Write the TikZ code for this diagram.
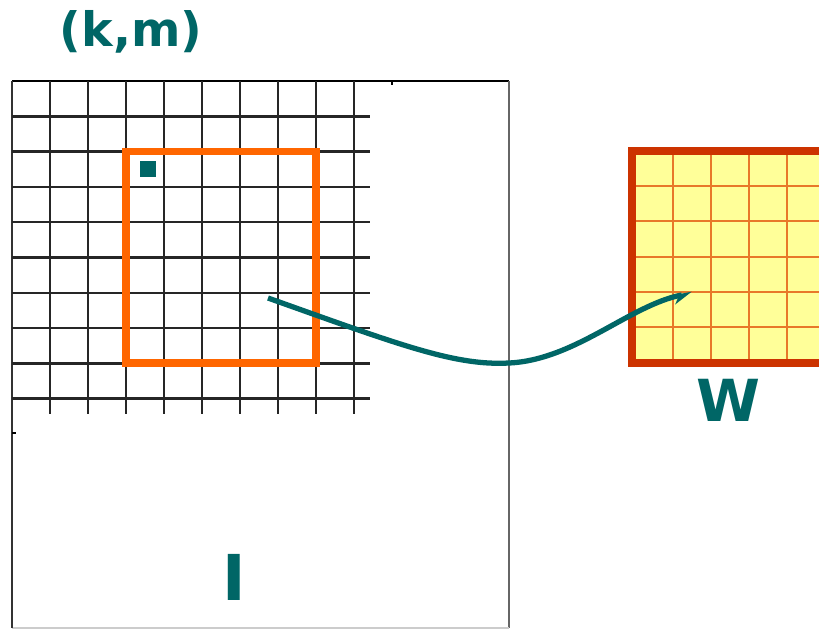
\documentclass[tikz,border=0pt]{standalone}
\usepackage{fontspec}
\setsansfont{DejaVu Sans}
\usepackage{tikz}
\usetikzlibrary{arrows.meta}
\definecolor{myteal}{HTML}{006666}
\definecolor{myorange}{HTML}{FF6600}
\definecolor{myrust}{HTML}{CC3300}
\definecolor{mycell}{HTML}{FFFF99}
\definecolor{mycellline}{HTML}{E8782A}

\begin{document}
\begin{tikzpicture}[
  x=0.02cm, y=-0.02cm,
  bigtext/.style={font=\sffamily\bfseries\fontsize{36}{40}\selectfont, text=myteal, inner sep=0pt},
  gridline/.style={black!85, line width=1.4pt}
]
\useasboundingbox (0,0) rectangle (819,629);
\clip (0,0) rectangle (819,629);

% Image I with its pixel grid
\draw[black, line width=0.7pt] (12,81) -- (509,81);
\draw[black!60, line width=1.2pt] (509,81) -- (509,628);
\draw[black!20, line width=0.7pt] (12,628) -- (509,628);
\draw[black!80, line width=1.2pt] (12,81) -- (12,628);
\foreach \i in {1,...,9}
  \draw[gridline] ({12+38*\i},81) -- ({12+38*\i},414);
\foreach \j in {1,...,9}
  \draw[gridline] (12,{81+35.3*\j}) -- (370,{81+35.3*\j});
\draw[black, line width=0.7pt] (12,433) -- (16,433);
\draw[black, line width=0.9pt] (392,81) -- (392,85);

% window over I and the pixel (k,m)
\draw[myorange, line width=4pt] (126,151.6) rectangle (316,363);
\fill[myteal] (140,161) rectangle (156,177);
\coordinate (src) at (268,298);

% Kernel W
\fill[mycell] (632,151) rectangle (840,363);
\foreach \i in {1,...,5}
  \draw[mycellline, line width=1.2pt] ({635+38*\i},151) -- ({635+38*\i},363);
\foreach \j in {1,...,5}
  \draw[mycellline, line width=1.2pt] (632,{151+35.2*\j}) -- (840,{151+35.2*\j});
\draw[myrust, line width=4pt] (840,151) -- (632,151) -- (632,363) -- (840,363);
\coordinate (dst) at (692,293);

% connector
\draw[myteal, line width=3pt, -{Stealth[length=9pt, width=9pt, harpoon, swap]}]
  (src) .. controls (400,345) and (455,366) .. (509,363)
        .. controls (575,360) and (630,305) .. (dst);

% labels
\node[bigtext, font=\sffamily\bfseries\fontsize{27}{30}\selectfont] (km) at (131,32) {(k,m)};
\node[bigtext, font=\sffamily\bfseries\fontsize{33}{36}\selectfont] (wlab) at (728,400) {W};
\node[bigtext] (ilab) at (234,577) {I};
\end{tikzpicture}
\end{document}
